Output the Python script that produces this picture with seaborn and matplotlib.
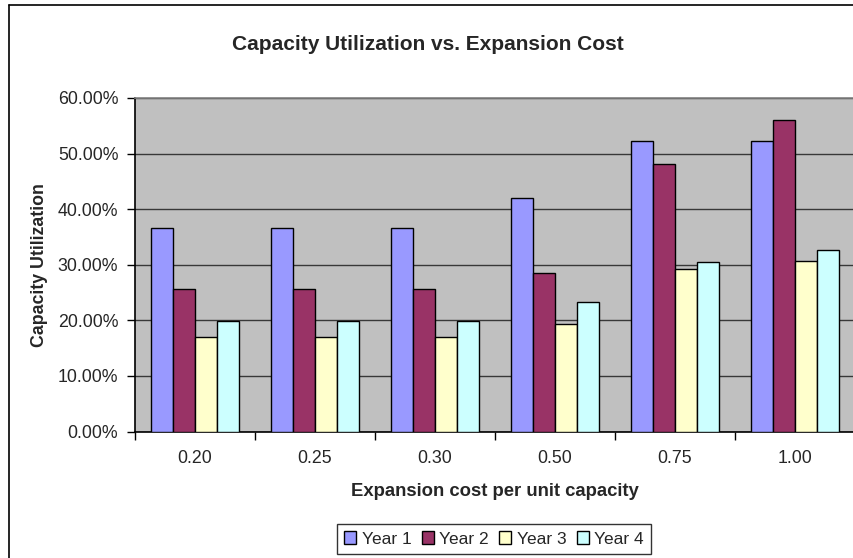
import matplotlib
matplotlib.use("Agg")
import matplotlib.pyplot as plt
import seaborn as sns
import pandas as pd
from matplotlib.ticker import PercentFormatter, FixedLocator, NullFormatter
from matplotlib.patches import Patch
from matplotlib.lines import Line2D

# Expansion cost categories and capacity utilization (%) per year
costs = ["0.20", "0.25", "0.30", "0.50", "0.75", "1.00"]
year1 = [36.6, 36.6, 36.6, 42.0, 52.2, 52.2]
year2 = [25.6, 25.6, 25.6, 28.5, 48.1, 56.0]
year3 = [17.1, 17.1, 17.1, 19.3, 29.2, 30.7]
year4 = [19.9, 19.9, 19.9, 23.3, 30.5, 32.7]
series_names = ["Year 1", "Year 2", "Year 3", "Year 4"]
colors = ["#9999FF", "#993366", "#FFFFCC", "#CCFFFF"]

rows = []
for name, vals in zip(series_names, [year1, year2, year3, year4]):
    for c, v in zip(costs, vals):
        rows.append({"cost": c, "series": name, "util": v})
df = pd.DataFrame(rows)

sns.set_theme(style="white")
plt.rcParams["font.family"] = ["Liberation Sans", "DejaVu Sans"]

W, H = 854, 558
fig = plt.figure(figsize=(W / 100, H / 100), dpi=100)
ax = fig.add_axes([135 / W, 1 - 431.6 / H, 720 / W, (431.6 - 98) / H])

sns.barplot(data=df, x="cost", y="util", hue="series", order=costs,
            hue_order=series_names, palette=colors, width=0.733,
            edgecolor="black", linewidth=1.0, saturation=1, ax=ax,
            legend=False, zorder=3)

ax.set_facecolor("#C0C0C0")
ax.set_ylim(0, 60)
ax.set_xlim(-0.5, len(costs) - 0.5)
ax.yaxis.set_major_locator(FixedLocator([0, 10, 20, 30, 40, 50, 60]))
ax.yaxis.set_major_formatter(PercentFormatter(100, decimals=2))
ax.grid(axis="y", color="#383838", linewidth=1.0, zorder=1)
ax.set_axisbelow(True)

# category boundaries carry the x tick marks; labels sit at the centers
ax.set_xticks([i - 0.5 for i in range(len(costs) + 1)], minor=False)
ax.xaxis.set_major_formatter(NullFormatter())
ax.set_xticks(range(len(costs)), minor=True)
ax.set_xticklabels(costs, minor=True)
ax.tick_params(axis="x", which="minor", length=0, pad=13, labelsize=12.8)
ax.tick_params(axis="x", which="major", length=6, width=1, color="black",
               direction="out", bottom=True)
ax.tick_params(axis="y", length=6, width=1, color="black", direction="out",
               left=True, labelsize=12.8, pad=6)

for side in ["top", "right"]:
    ax.spines[side].set_color("#808080")
    ax.spines[side].set_linewidth(1.2)
for side in ["left", "bottom"]:
    ax.spines[side].set_color("black")
    ax.spines[side].set_linewidth(1.2)

ax.set_xlabel("Expansion cost per unit capacity", fontsize=13.3,
              fontweight="bold", labelpad=12)
ax.set_ylabel("Capacity Utilization", fontsize=12.8, fontweight="bold",
              labelpad=7)

fig.text(428 / W, 1 - 44 / H, "Capacity Utilization vs. Expansion Cost",
         ha="center", va="center", fontsize=15, fontweight="bold")

handles = [Patch(facecolor=c, edgecolor="black", linewidth=1.0) for c in colors]
leg = fig.legend(handles, series_names, loc="center",
                 bbox_to_anchor=(494 / W, 1 - 539 / H), ncol=4,
                 frameon=True, fancybox=False, fontsize=12.5,
                 handlelength=0.7, handleheight=0.7, handletextpad=0.3,
                 columnspacing=0.6, borderpad=0.45)
leg.get_frame().set_edgecolor("black")
leg.get_frame().set_linewidth(1.0)

# chart-area border along the left and top edges
fig.add_artist(Line2D([8.5 / W, 8.5 / W], [0, 1 - 4.5 / H], color="black",
                      linewidth=1.2, transform=fig.transFigure))
fig.add_artist(Line2D([8.5 / W, 1], [1 - 4.5 / H, 1 - 4.5 / H], color="black",
                      linewidth=1.2, transform=fig.transFigure))

fig.savefig("out.png", dpi=100, facecolor="white")
